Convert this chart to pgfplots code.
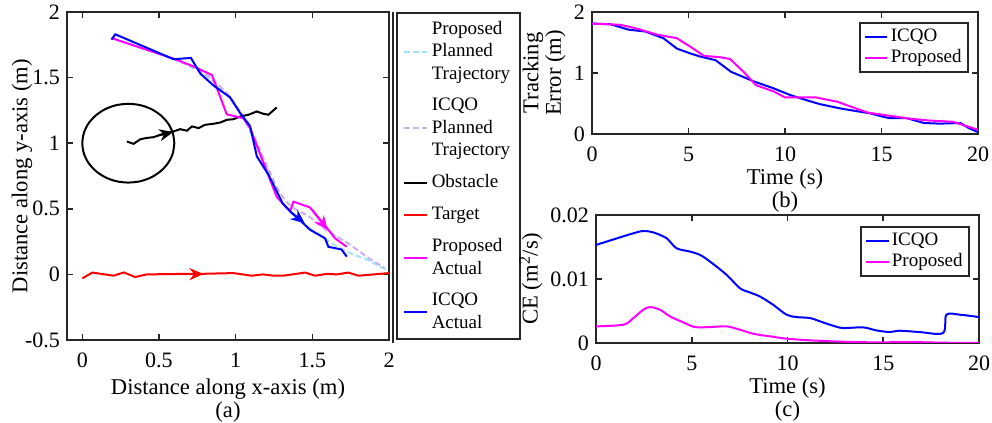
\documentclass[border=0pt]{standalone}
\usepackage{fontspec}
\setmainfont{Liberation Serif}
\usepackage{pgfplots}
\pgfplotsset{compat=1.18}
\usetikzlibrary{arrows.meta}

\definecolor{axgray}{RGB}{38,38,38}
\definecolor{mblue}{RGB}{0,0,255}
\definecolor{mmag}{RGB}{255,0,255}
\definecolor{mred}{RGB}{255,0,0}
\definecolor{plancyan}{RGB}{165,225,250}
\definecolor{planpurple}{RGB}{205,175,240}

\pgfplotsset{
  mat/.style={
    scale only axis,
    axis line style={axgray, line width=1pt},
    tick style={axgray, line width=0.8pt},
    tick align=inside,
    major tick length=3pt,
    tick label style={font=\fontsize{11}{12}\selectfont},
    xticklabel style={yshift=-3pt},
    label style={font=\fontsize{11.3}{10}\selectfont},
    /pgf/number format/assume math mode=true,
    legend style={font=\fontsize{9.5}{11.25}\selectfont, draw=axgray, line width=1pt},
    legend cell align=left,
    legend image code/.code={\draw plot coordinates {(0cm,0cm) (0.4cm,0cm)};},
  },
  small leg/.style={legend style={at={(1,1)}, anchor=north east, nodes={inner sep=1.2pt},
     font=\fontsize{9.5}{10.5}\selectfont, inner sep=2pt}},
}

\begin{document}
\begin{tikzpicture}
\useasboundingbox (0,0) rectangle (496pt,211.5pt);

% (a) trajectories
\begin{axis}[mat, name=a, at={(33.5pt,41.5pt)}, anchor=south west,
  width=161pt, height=164pt,
  xmin=-0.1, xmax=2, ymin=-0.5, ymax=2,
  xtick={0,0.5,1,1.5,2}, ytick={-0.5,0,0.5,1,1.5,2},
  xlabel={Distance along x-axis (m)\\(a)},
  xlabel style={align=center, at={(axis description cs:0.5,0)}, anchor=north, yshift=-15.9pt},
  ylabel={Distance along y-axis (m)},
  ylabel style={at={(axis description cs:-0.14,0.5)}, anchor=center},
  legend style={at={(1,1)}, anchor=north west, xshift=3.5pt,
    cells={align=left}, row sep=4pt},
]
\addplot[plancyan, line width=1pt, dash pattern=on 3pt off 1.5pt, smooth] coordinates {
 (0.2,1.8) (0.4,1.72) (0.6,1.64) (0.8,1.52) (0.95,1.36) (1.05,1.2) (1.12,1.02)
 (1.2,0.8) (1.28,0.6) (1.35,0.48) (1.45,0.38) (1.55,0.3) (1.65,0.22) (1.75,0.16)
 (1.86,0.11) (1.94,0.06) (1.99,0.034)};
\addlegendentry{Proposed\\Planned\\Trajectory}
\addplot[planpurple, line width=1pt, dash pattern=on 3pt off 1.5pt, smooth] coordinates {
 (0.2,1.8) (0.4,1.72) (0.6,1.64) (0.8,1.53) (0.95,1.37) (1.05,1.2) (1.1,1.1)
 (1.2,0.84) (1.28,0.64) (1.36,0.52) (1.48,0.44) (1.6,0.33) (1.73,0.24)
 (1.86,0.13) (1.97,0.05)};
\addlegendentry{ICQO\\Planned\\Trajectory}
\addplot[black, line width=1pt] coordinates {
 (0.291,1.013) (0.334,0.995) (0.378,1.03) (0.42,1.04) (0.465,1.046) (0.508,1.064)
 (0.55,1.077) (0.595,1.09) (0.638,1.107) (0.682,1.095) (0.715,1.128) (0.758,1.115)
 (0.8,1.14) (0.855,1.148) (0.9,1.158) (0.942,1.178) (0.986,1.183) (1.03,1.204)
 (1.084,1.217) (1.138,1.242) (1.181,1.224) (1.214,1.217) (1.268,1.273)};
\addlegendentry{Obstacle}
\addplot[mred, line width=1pt] coordinates {
 (0,-0.03) (0.065,0.014) (0.204,-0.01) (0.27,0.015) (0.345,-0.02) (0.42,0)
 (0.6,0.003) (0.77,0.004) (0.986,0.01) (1.105,-0.01) (1.18,0) (1.246,-0.01)
 (1.31,-0.01) (1.453,0.014) (1.518,-0.01) (1.594,0.004) (1.66,0) (1.735,0.014)
 (1.8,-0.01) (2.0,0.01)};
\addlegendentry{Target}
\addplot[mmag, line width=1pt] coordinates {
 (0.193,1.80) (0.606,1.64) (0.725,1.585) (0.845,1.52) (0.942,1.22) (1.05,1.19)
 (1.094,1.115) (1.268,0.59) (1.355,0.48) (1.377,0.555) (1.485,0.51) (1.605,0.34)
 (1.648,0.275) (1.724,0.21)};
\addlegendentry{Proposed\\Actual}
\addplot[mblue, line width=1pt] coordinates {
 (0.19,1.79) (0.215,1.83) (0.595,1.64) (0.708,1.65) (0.77,1.53) (0.855,1.44)
 (0.963,1.35) (1.029,1.23) (1.094,1.13) (1.138,0.90) (1.214,0.76) (1.307,0.54)
 (1.366,0.47) (1.431,0.40) (1.485,0.34) (1.583,0.275) (1.605,0.21) (1.69,0.19)
 (1.725,0.135)};
\addlegendentry{ICQO\\Actual}
% obstacle safety circle
\addplot[black, line width=1pt, smooth, forget plot] coordinates {
 (0.600,1.000) (0.590,1.078) (0.560,1.150) (0.512,1.212) (0.450,1.260) (0.378,1.290)
 (0.300,1.300) (0.222,1.290) (0.150,1.260) (0.088,1.212) (0.040,1.150) (0.010,1.078)
 (0.000,1.000) (0.010,0.922) (0.040,0.850) (0.088,0.788) (0.150,0.740) (0.222,0.710)
 (0.300,0.700) (0.378,0.710) (0.450,0.740) (0.512,0.788) (0.560,0.850) (0.590,0.922)
 (0.600,1.000)};
% direction arrows
\addplot[black, line width=1pt, -{Stealth[length=7pt,width=6pt]}, forget plot] coordinates {(0.50,1.06) (0.593,1.085)};
\addplot[mred, line width=1pt, -{Stealth[length=7pt,width=6pt]}, forget plot] coordinates {(0.70,0.002) (0.79,0.003)};
\addplot[mmag, line width=1pt, -{Stealth[length=7pt,width=6pt]}, forget plot] coordinates {(1.50,0.49) (1.60,0.34)};
\addplot[mblue, line width=1pt, -{Stealth[length=7pt,width=6pt]}, forget plot] coordinates {(1.37,0.465) (1.45,0.39)};
\end{axis}
\draw[axgray, line width=1pt] ([xshift=1.75pt,yshift=-1.5pt]a.south east) -- ([xshift=1.75pt]a.north east);

% (b) tracking error
\begin{axis}[mat, small leg, at={(296pt,144.5pt)}, anchor=south west,
  width=193pt, height=61pt,
  xmin=0, xmax=20, ymin=0, ymax=2,
  xtick={0,5,10,15,20}, ytick={0,1,2},
  xlabel={Time (s)\\(b)},
  xlabel style={align=center, at={(axis description cs:0.5,0)}, anchor=north, yshift=-13.9pt},
  ylabel={Tracking\\Error (m)},
  ylabel style={align=center, at={(axis description cs:-0.124,0.5)}, anchor=center},
  legend style={xshift=-4.5pt, yshift=-5pt},
]
\addplot[mblue, line width=1pt] coordinates {
 (0,1.81) (0.95,1.80) (1.9,1.71) (2.76,1.68) (3.7,1.57) (4.4,1.40) (5.1,1.32)
 (5.6,1.27) (6.4,1.21) (7.2,1.02) (8.4,0.86) (9.4,0.75) (10.26,0.64) (10.95,0.57)
 (11.8,0.49) (12.85,0.42) (13.5,0.385) (14.4,0.34) (15,0.29) (15.4,0.26) (16.3,0.26)
 (17.2,0.18) (18,0.17) (19.1,0.18) (19.5,0.10) (20,0.03)};
\addlegendentry{ICQO}
\addplot[mmag, line width=1pt] coordinates {
 (0,1.81) (1.47,1.79) (2.3,1.73) (3.36,1.63) (4.4,1.57) (5.1,1.43) (5.8,1.28)
 (6.6,1.26) (7.15,1.23) (7.85,1.02) (8.5,0.80) (9.4,0.70) (10,0.60) (10.6,0.60)
 (11.6,0.60) (12.7,0.53) (13.4,0.45) (14.3,0.35) (15.4,0.30) (16.5,0.25) (17.5,0.22)
 (18.7,0.20) (19.4,0.13) (20,0.07)};
\addlegendentry{Proposed}
\end{axis}

% (c) control effort
\begin{axis}[mat, small leg, at={(298pt,40pt)}, anchor=south west,
  width=191.5pt, height=64pt,
  xmin=0, xmax=20, ymin=0, ymax=0.02,
  xtick={0,5,10,15,20}, ytick={0,0.01,0.02},
  scaled y ticks=false,
  yticklabel style={/pgf/number format/fixed, /pgf/number format/precision=2},
  xlabel={Time (s)\\(c)},
  xlabel style={align=center, at={(axis description cs:0.5,0)}, anchor=north, yshift=-13.9pt},
  ylabel={CE (m\textsuperscript{2}/s)},
  ylabel style={at={(axis description cs:-0.17,0.5)}, anchor=center},
  legend style={xshift=-4.5pt, yshift=-5.5pt},
]
\addplot[mblue, line width=1pt, smooth] coordinates {
 (0,0.01532) (1.25,0.0165) (1.95,0.01714) (2.47,0.0175) (3.0,0.01727) (3.69,0.01636)
 (4.2,0.01481) (4.9,0.01429) (5.43,0.01377) (5.95,0.01273) (6.82,0.01065) (7.51,0.00857)
 (8.03,0.0079) (8.56,0.00727) (9.25,0.00597) (9.95,0.00442) (10.47,0.00405) (11.17,0.0039)
 (11.7,0.00338) (12.38,0.0027) (12.9,0.00234) (13.95,0.00244) (14.64,0.00197)
 (15.34,0.00171) (15.86,0.00192) (16.9,0.00171) (18.12,0.00156) (18.3,0.00442)
 (19,0.00442) (20,0.00405)};
\addlegendentry{ICQO}
\addplot[mmag, line width=1pt, smooth] coordinates {
 (0,0.0026) (1.43,0.00286) (1.95,0.0039) (2.47,0.0052) (2.82,0.00561) (3.34,0.0052)
 (3.86,0.00416) (4.56,0.00322) (5.17,0.00249) (5.95,0.00249) (6.82,0.0026) (7.51,0.00208)
 (8.2,0.00145) (9.08,0.00104) (9.95,0.00068) (11.17,0.00042) (12.9,0.0002) (14.64,0.0001)
 (16.38,0.00015) (18.1,0.00005) (20,0)};
\addlegendentry{Proposed}
\end{axis}
\end{tikzpicture}
\end{document}
